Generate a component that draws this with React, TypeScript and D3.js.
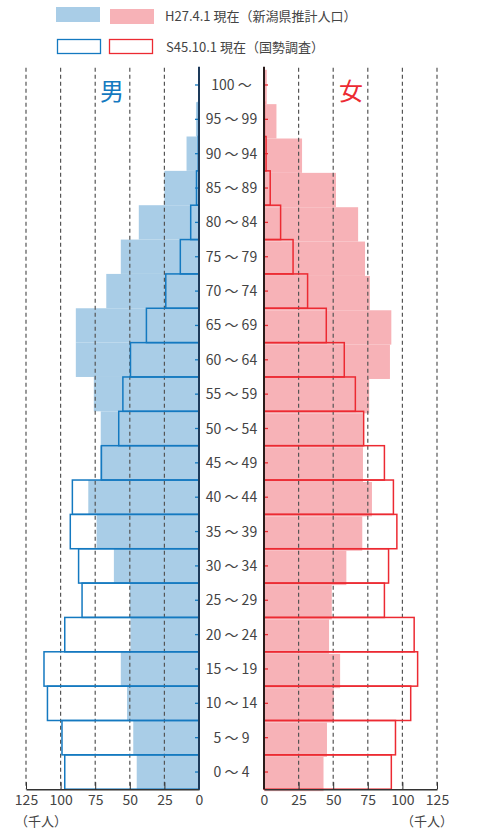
import React, { useEffect, useRef } from 'react';
import * as d3 from 'd3';

// age groups, top to bottom
const ageGroups = [
  '100～', '95～99', '90～94', '85～89', '80～84', '75～79', '70～74',
  '65～69', '60～64', '55～59', '50～54', '45～49', '40～44', '35～39',
  '30～34', '25～29', '20～24', '15～19', '10～14', '5～9', '0～4',
];

// H27.4.1 (thousand people)
const male2015 = [0.2, 2.2, 9, 25, 43.5, 56.5, 67, 89, 89, 76, 71, 71.5, 80, 74, 61.5, 50, 49.5, 56.5, 52, 47.5, 45];
const female2015 = [2, 9, 27.5, 52, 68, 73, 76.5, 92, 91, 76, 71.5, 71.5, 78, 71, 59.5, 49, 47, 55, 50.5, 45.5, 43];

// S45.10.1 (thousand people)
const male1970 = [0, 0.3, 0.5, 1.8, 6, 13.5, 24, 38, 49.5, 55, 58, 70.5, 91.5, 93, 87, 84.5, 97, 112, 109.5, 99, 97];
const female1970 = [0, 0.3, 1.5, 4.5, 12, 21, 31.5, 45, 58, 66, 72, 87, 93.5, 96, 90, 87, 108.5, 111, 106, 95, 92];

const xTicks = [0, 25, 50, 75, 100, 125];

const W = 477;
const H = 829;

const BLUE_FILL = '#a9cde7';
const BLUE_LINE = '#1479c0';
const PINK_FILL = '#f7b2b7';
const RED_LINE = '#ec2a32';
const TEXT = '#444';
const FONT = '"Noto Sans CJK JP", "Noto Sans", sans-serif';

export default function App() {
  const svgRef = useRef<SVGSVGElement>(null);

  useEffect(() => {
    if (!svgRef.current) return;
    const svg = d3.select(svgRef.current);
    svg.selectAll('*').remove();

    const top = 67.8;
    const bottom = 789.2;

    const y = d3.scaleBand<string>().domain(ageGroups).range([top, bottom]).padding(0);
    const xL = d3.scaleLinear().domain([0, 125]).range([199, 26]);
    const xR = d3.scaleLinear().domain([0, 125]).range([264, 437]);

    // legend
    const leg = svg.append('g').attr('font-family', FONT).attr('font-size', 13).attr('fill', TEXT);
    leg.append('rect').attr('x', 56).attr('y', 7).attr('width', 44).attr('height', 15).attr('fill', BLUE_FILL);
    leg.append('rect').attr('x', 110).attr('y', 9).attr('width', 44).attr('height', 15).attr('fill', PINK_FILL);
    leg.append('text').attr('x', 165).attr('y', 21).text('H27.4.1 現在（新潟県推計人口）');
    leg.append('rect').attr('x', 57.5).attr('y', 39.5).attr('width', 43).attr('height', 14)
      .attr('fill', 'none').attr('stroke', BLUE_LINE).attr('stroke-width', 1.3);
    leg.append('rect').attr('x', 109.5).attr('y', 39.5).attr('width', 43).attr('height', 14)
      .attr('fill', 'none').attr('stroke', RED_LINE).attr('stroke-width', 1.3);
    leg.append('text').attr('x', 166).attr('y', 52).text('S45.10.1 現在（国勢調査）');

    // filled bars (2015)
    svg.append('g').selectAll('rect').data(male2015).join('rect')
      .attr('x', d => xL(d))
      .attr('y', (_, i) => y(ageGroups[i])!)
      .attr('width', d => xL(0) - xL(d))
      .attr('height', y.bandwidth())
      .attr('fill', BLUE_FILL);

    svg.append('g').selectAll('rect').data(female2015).join('rect')
      .attr('x', xR(0))
      .attr('y', (_, i) => y(ageGroups[i])! + 2)
      .attr('width', d => xR(d) - xR(0))
      .attr('height', y.bandwidth())
      .attr('fill', PINK_FILL);

    // dashed gridlines
    const grid = svg.append('g').attr('stroke', '#555').attr('stroke-width', 1.2).attr('stroke-dasharray', '4,3');
    xTicks.filter(t => t > 0).forEach(t => {
      grid.append('line').attr('x1', xL(t)).attr('x2', xL(t)).attr('y1', top).attr('y2', bottom);
      grid.append('line').attr('x1', xR(t)).attr('x2', xR(t)).attr('y1', top).attr('y2', bottom);
    });

    // outline bars (1970)
    svg.append('g').selectAll('rect').data(male1970).join('rect')
      .attr('x', d => xL(d))
      .attr('y', (_, i) => y(ageGroups[i])!)
      .attr('width', d => xL(0) - xL(d))
      .attr('height', y.bandwidth())
      .attr('fill', 'none')
      .attr('stroke', BLUE_LINE)
      .attr('stroke-width', 1.5);

    svg.append('g').selectAll('rect').data(female1970).join('rect')
      .attr('x', xR(0))
      .attr('y', (_, i) => y(ageGroups[i])!)
      .attr('width', d => xR(d) - xR(0))
      .attr('height', y.bandwidth())
      .attr('fill', 'none')
      .attr('stroke', RED_LINE)
      .attr('stroke-width', 1.5);

    // bottom axes
    const axL = svg.append('g').attr('transform', `translate(0,${bottom})`);
    axL.call(d3.axisBottom(xL).tickValues(xTicks).tickSize(-7).tickSizeOuter(0).tickPadding(6) as any);
    const axR = svg.append('g').attr('transform', `translate(0,${bottom})`);
    axR.call(d3.axisBottom(xR).tickValues(xTicks).tickSize(-7).tickSizeOuter(0).tickPadding(6) as any);
    [axL, axR].forEach(a => {
      a.select('.domain').attr('stroke', '#333').attr('stroke-width', 1.5);
      a.selectAll('.tick line').attr('stroke', '#333');
      a.selectAll('.tick text').attr('fill', TEXT).attr('font-size', 14).attr('font-family', FONT);
    });

    // vertical axes with ticks at band centres
    const yTickL = svg.append('g');
    ageGroups.forEach(a => {
      const cy = y(a)! + y.bandwidth() / 2;
      yTickL.append('line').attr('x1', 195).attr('x2', 199).attr('y1', cy).attr('y2', cy)
        .attr('stroke', BLUE_LINE).attr('stroke-width', 1.3);
      yTickL.append('line').attr('x1', 264).attr('x2', 268).attr('y1', cy).attr('y2', cy)
        .attr('stroke', RED_LINE).attr('stroke-width', 1.3);
    });
    svg.append('line').attr('x1', xL(0)).attr('x2', xL(0)).attr('y1', top - 1).attr('y2', bottom)
      .attr('stroke', '#1d3a5a').attr('stroke-width', 2);
    svg.append('line').attr('x1', xR(0)).attr('x2', xR(0)).attr('y1', top - 1).attr('y2', bottom)
      .attr('stroke', '#2a1a1a').attr('stroke-width', 2);

    // age labels
    svg.append('g').selectAll('text').data(ageGroups).join('text')
      .attr('x', 231.5)
      .attr('y', d => y(d)! + y.bandwidth() / 2)
      .attr('dy', '0.36em')
      .attr('text-anchor', 'middle')
      .attr('font-family', FONT)
      .attr('font-size', 14)
      .attr('fill', TEXT)
      .text(d => d.replace('～', ' ～ ').trim());

    // sex labels
    svg.append('text').attr('x', 112).attr('y', 100).attr('text-anchor', 'middle')
      .attr('font-family', FONT).attr('font-size', 24).attr('fill', BLUE_LINE).text('男');
    svg.append('text').attr('x', 351).attr('y', 100).attr('text-anchor', 'middle')
      .attr('font-family', FONT).attr('font-size', 24).attr('fill', RED_LINE).text('女');

    // unit labels
    svg.append('text').attr('x', 15).attr('y', 826).attr('font-family', FONT).attr('font-size', 13)
      .attr('fill', TEXT).text('（千人）');
    svg.append('text').attr('x', 453).attr('y', 826).attr('text-anchor', 'end').attr('font-family', FONT)
      .attr('font-size', 13).attr('fill', TEXT).text('（千人）');
  }, []);

  return (
    <svg
      ref={svgRef}
      width={W}
      height={H}
      style={{ position: 'absolute', left: 0, top: 0, background: '#fff' }}
    />
  );
}
